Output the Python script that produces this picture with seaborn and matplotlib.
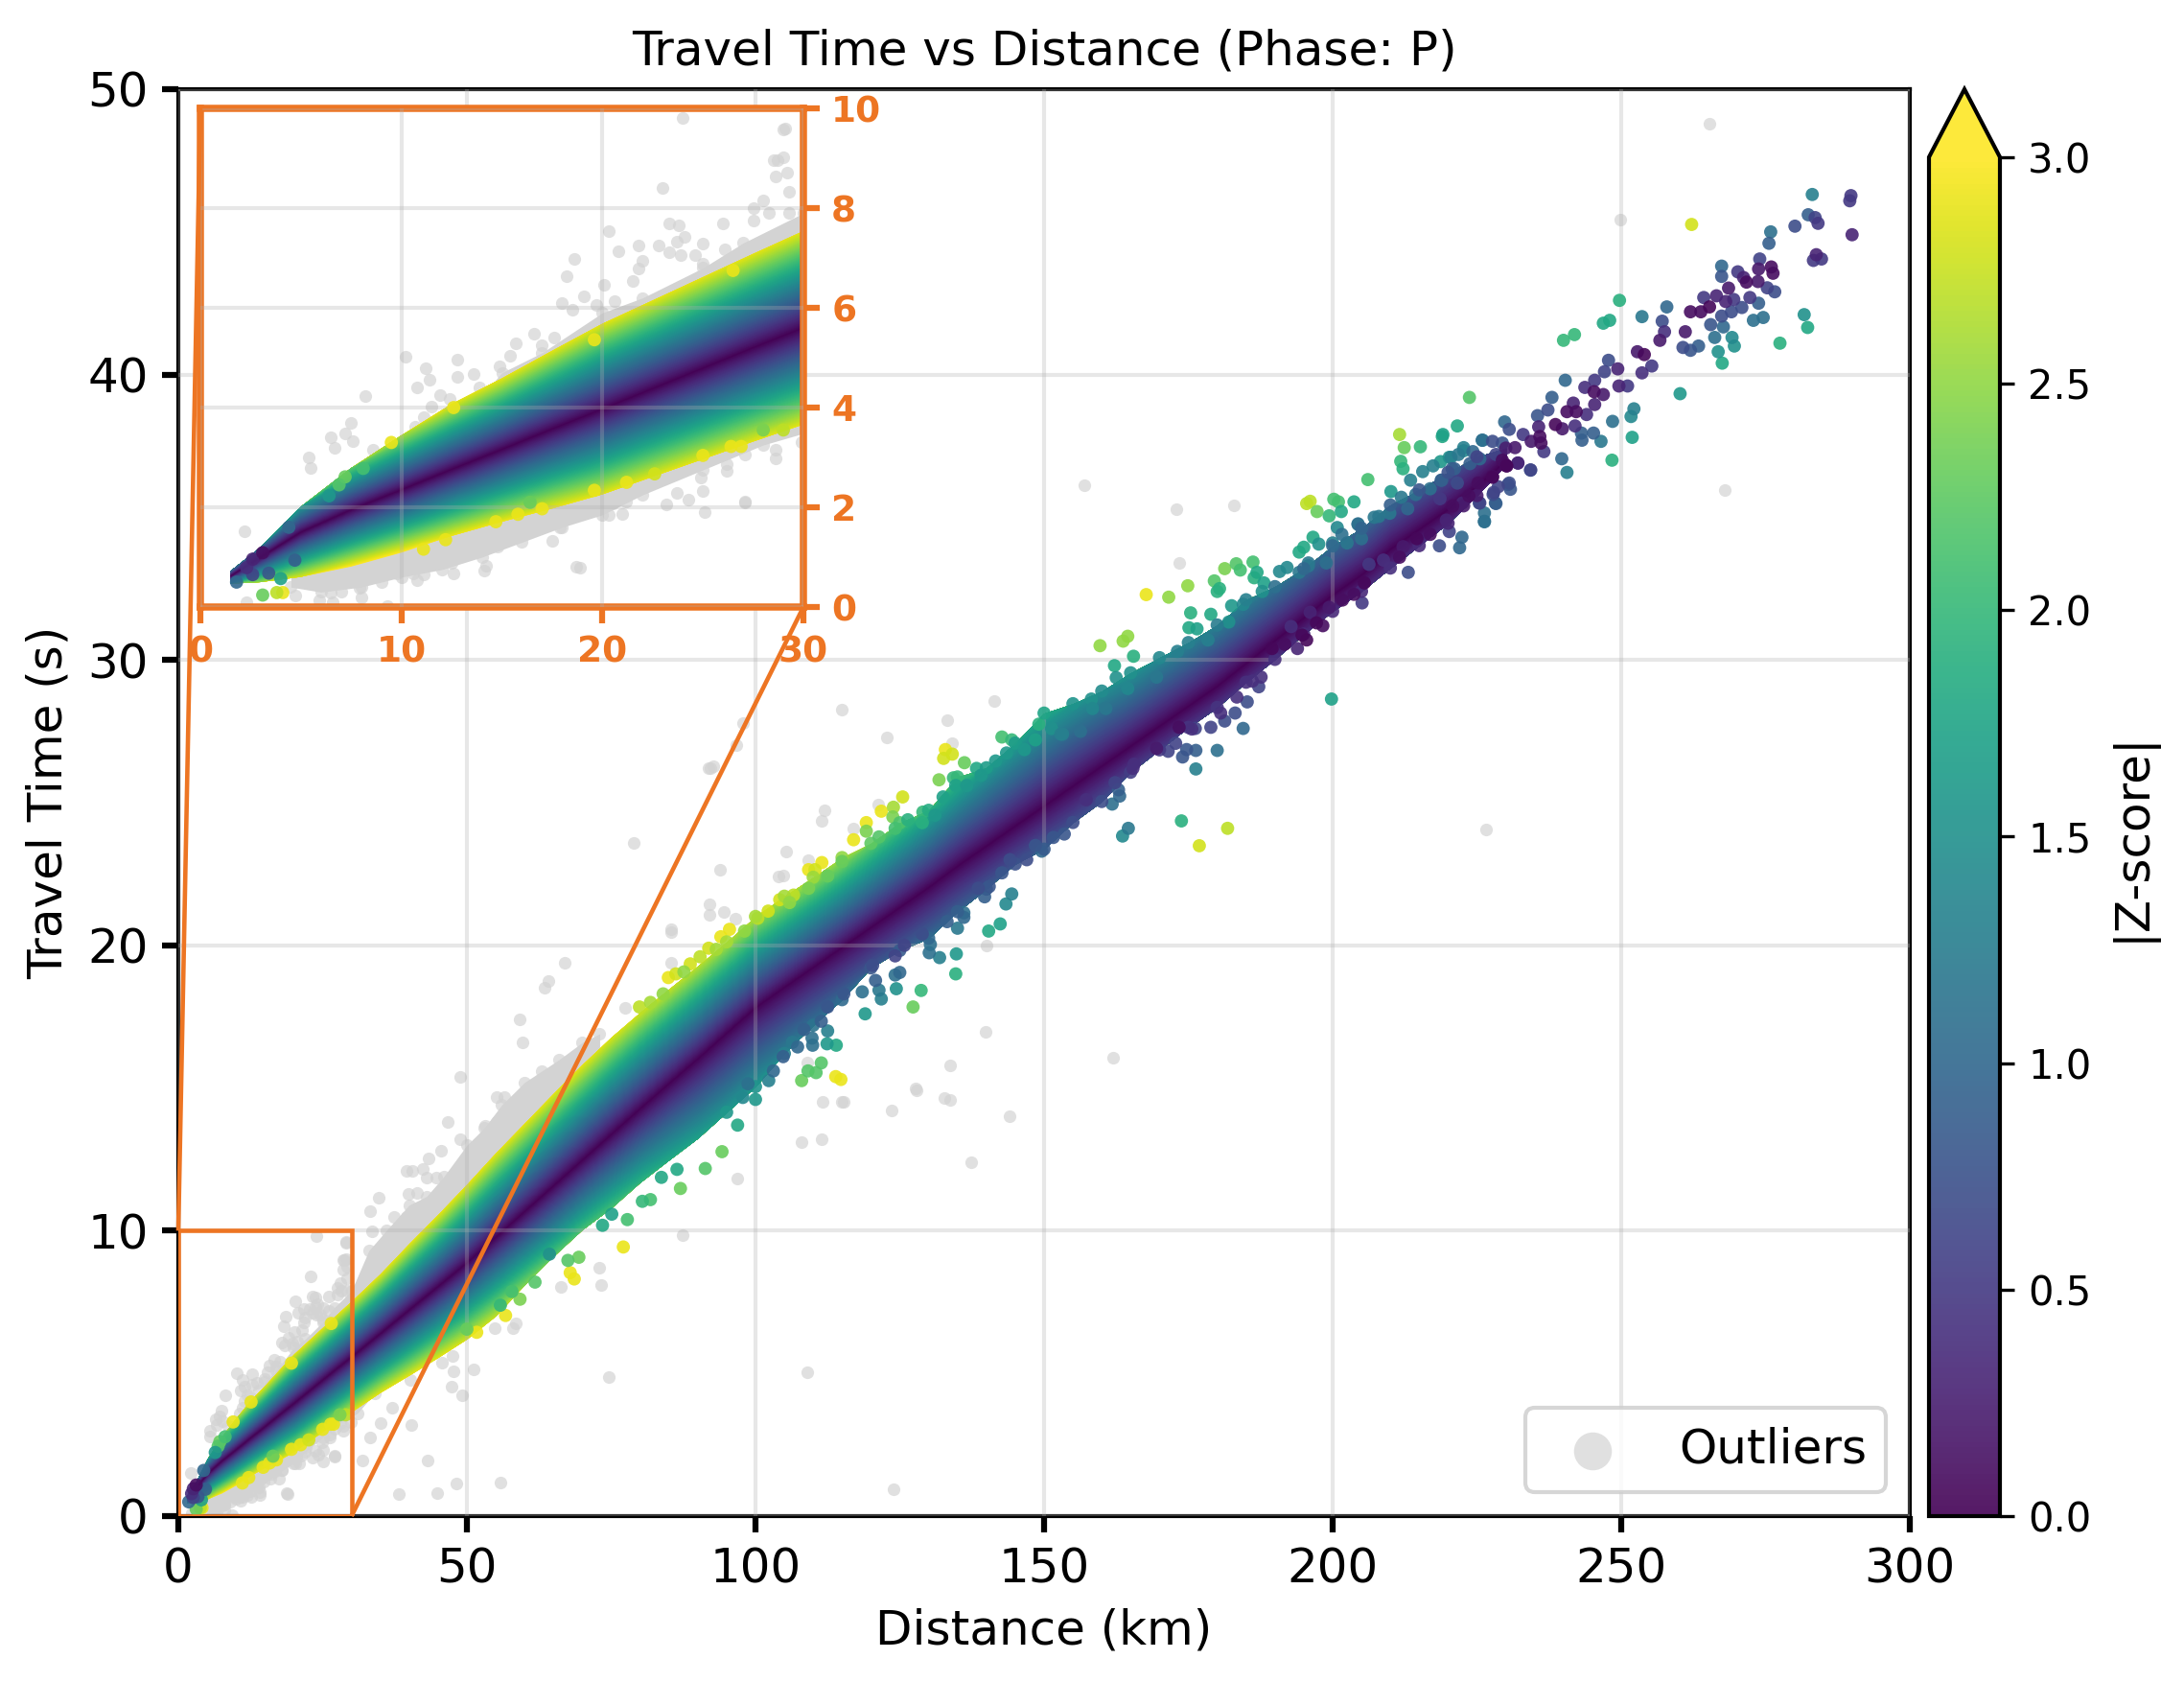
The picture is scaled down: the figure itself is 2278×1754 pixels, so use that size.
import matplotlib
matplotlib.use("Agg")
import matplotlib.pyplot as plt
import numpy as np
import pandas as pd
import seaborn as sns
from matplotlib.cm import ScalarMappable
from matplotlib.colors import Normalize
from mpl_toolkits.axes_grid1.inset_locator import mark_inset

# Robust travel-time curve per distance station: median, scatter per unit |z| on
# each side, and how far the well-populated cloud reaches above and below the median.
STATION_KM = [1.5, 3, 5, 7.5, 10, 12.5, 15, 17.5, 20, 22.5, 25, 27.5, 30, 35, 40, 45, 50, 55, 60, 65, 70,
              75, 80, 85, 90, 95, 100, 105, 110, 115, 120, 125, 130, 135, 140, 145, 150, 155, 160, 165,
              170, 175, 180, 185, 190, 195, 200, 205, 210, 215, 220, 225, 230]
MEDIAN_S = [0.62, 1.0, 1.5, 1.95, 2.35, 2.76, 3.16, 3.57, 3.97, 4.38, 4.79, 5.2, 5.6, 6.42, 7.25, 8.07, 8.9,
            9.8, 10.7, 11.6, 12.5, 13.4, 14.3, 15.18, 16.05, 16.95, 17.84, 18.55, 19.25, 19.95, 20.65, 21.35, 22.05,
            22.8, 23.5, 24.2, 24.9, 25.6, 26.3, 27.0, 27.7, 28.4, 29.1, 29.9, 30.7, 31.5, 32.3, 33.0, 33.9,
            34.6, 35.3, 36.1, 37.0]
SCATTER_UP = [0.1, 0.2, 0.32, 0.38, 0.42, 0.46, 0.5, 0.55, 0.6, 0.62, 0.64, 0.66, 0.68, 0.73, 0.81, 0.88, 0.96,
              1.03, 1.08, 1.13, 1.17, 1.21, 1.22, 1.22, 1.22, 1.22, 1.22, 1.22, 1.23, 1.25, 1.3, 1.37, 1.45,
              1.55, 1.65, 1.75, 1.85, 1.85, 1.8, 1.7, 1.7, 1.7, 1.7, 1.7, 1.7, 1.7, 1.7, 1.7, 1.7,
              1.7, 1.7, 1.7, 1.7]
SCATTER_DOWN = [0.1, 0.2, 0.32, 0.38, 0.42, 0.46, 0.5, 0.55, 0.6, 0.62, 0.64, 0.66, 0.68, 0.73, 0.81, 0.88, 0.96,
                1.03, 1.08, 1.13, 1.17, 1.25, 1.35, 1.5, 1.65, 1.75, 1.8, 1.8, 1.8, 1.8, 1.8, 1.8, 1.8,
                1.8, 1.8, 1.8, 1.8, 1.85, 1.8, 1.7, 1.7, 1.7, 1.7, 1.7, 1.7, 1.7, 1.7, 1.7, 1.7,
                1.7, 1.7, 1.7, 1.7]
REACH_UP = [1.0, 1.0, 1.6, 2.2, 2.6, 2.85, 2.85, 2.85, 2.85, 2.85, 2.85, 2.85, 2.85, 2.85, 2.85, 2.85, 2.85,
            2.85, 2.85, 2.85, 2.85, 2.8, 2.75, 2.7, 2.65, 2.6, 2.6, 2.6, 2.55, 2.5, 2.25, 2.15, 1.85, 2.0, 1.65,
            1.65, 1.75, 1.55, 1.45, 1.5, 1.4, 1.3, 1.25, 1.3, 1.1, 1.0, 1.0, 0.95, 0.9, 0.8, 0.75, 0.6, 0.25]
REACH_DOWN = [1.5, 2.5, 2.8, 3, 3, 2.9, 2.9, 2.9, 2.85, 2.85, 2.85, 2.85, 2.85, 2.85, 2.85, 2.85, 2.8, 2.7, 2.4,
              2.2, 2.1, 2.08, 1.93, 1.8, 1.7, 1.6, 1.55, 1.3, 1.14, 1.03, 0.8, 0.85, 1.0, 0.9, 0.85, 0.75, 0.85,
              0.7, 0.7, 0.55, 0.5, 0.45, 0.45, 0.4, 0.4, 0.35, 0.35, 0.35, 0.4, 0.35, 0.3, 0.2, 0.1]

# Solid masses of rejected picks hugging the cloud.
HIGH_MASS_KM = [12, 15, 17, 20, 22, 25, 27, 30, 33, 36, 40, 43, 46, 50, 53, 56, 60, 63, 66, 70, 73]
HIGH_MASS_TOP = [3.3, 4.7, 5.1, 5.9, 6.2, 6.8, 7.3, 7.9, 9.3, 10.0, 10.9, 11.2, 11.9, 13.0, 13.6, 14.4, 15.2, 15.6,
                 16.0, 16.6, 16.9]
HIGH_MASS_BASE = [2.7, 3.16, 3.5, 3.97, 4.3, 4.8, 5.1, 5.6, 6.1, 6.6, 7.25, 7.7, 8.2, 8.9, 9.4, 10.0, 10.7, 11.2,
                  11.8, 12.5, 13.0]
LOW_MASS_KM = [4.5, 6, 8, 10, 12, 14, 16, 18, 20, 22, 25, 28, 31, 34]
LOW_MASS_TOP = [1.4, 1.7, 2.0, 2.35, 2.7, 3.0, 3.3, 3.65, 3.97, 4.3, 4.8, 5.3, 5.8, 6.2]
LOW_MASS_BOTTOM = [0.4, 0.3, 0.4, 0.6, 0.75, 1.0, 1.3, 1.6, 1.85, 2.25, 2.75, 3.25, 3.6, 4.3]

OUTLIERS = [
    (249.9, 45.42), (267.9, 35.95), (265.2, 48.8), (157.0, 36.12), (173.0, 35.28), (182.9, 35.41), (173.5, 33.39),
    (226.6, 24.07), (162.0, 16.07), (114.9, 28.27), (141.4, 28.56), (140.0, 20.0), (132.8, 14.65), (137.3, 12.4),
    (144.1, 14.0), (124.0, 0.93), (109.0, 5.03), (74.6, 4.88), (87.4, 9.86), (78.9, 23.6), (59.1, 17.4), (66.9, 19.4),
    (64.2, 18.75), (63.5, 18.5), (59.6, 16.6), (44.9, 0.8), (55.8, 1.17), (107.9, 13.1), (111.5, 13.2), (114.9, 14.5),
    (108.9, 15.9), (123.6, 14.2), (133.7, 15.8), (127.7, 15.0), (92.2, 26.2), (97.9, 27.8), (96.6, 27.0), (91.9, 26.2),
    (92.7, 26.27), (93.9, 22.66), (92.0, 21.45), (92.0, 21.07), (94.5, 21.17), (96.5, 20.95), (85.3, 20.58),
    (85.3, 20.47), (85.3, 19.4), (122.7, 27.3), (133.3, 27.9), (134.1, 27.1), (112.0, 24.73), (111.5, 24.37),
    (121.3, 24.93), (105.3, 23.3), (117.0, 24.1), (109.2, 23.0), (104.8, 22.43), (104.0, 22.4), (139.9, 16.97),
    (127.9, 14.93), (133.7, 14.6), (111.7, 14.5), (115.3, 14.5), (77.4, 17.8), (96.9, 11.84),
    (48.9, 15.4), (55.2, 14.7), (56.4, 14.67), (57.3, 14.2), (46.7, 13.8), (53.2, 13.66), (55.1, 13.8), (48.9, 13.2),
    (43.3, 12.54), (45.5, 12.8), (39.5, 12.1), (40.5, 12.1), (42.4, 12.15), (44.7, 11.87), (43.0, 11.87), (34.8, 11.14),
    (39.8, 11.3), (41.4, 11.33), (33.2, 10.7), (37.3, 10.5), (39.5, 10.5), (33.5, 9.97), (29.0, 9.57), (28.7, 8.96),
    (72.9, 8.7), (73.3, 8.1), (66.3, 8.03), (54.8, 6.57), (57.9, 6.6), (58.4, 6.77), (47.5, 5.6), (45.7, 5.38),
    (51.1, 5.15), (47.6, 5.06), (47.3, 4.53), (49.2, 4.23), (40.2, 4.78), (40.3, 3.19), (35.1, 3.27), (37.0, 3.8),
    (33.3, 2.74), (27.1, 2.1), (31.9, 1.94), (43.2, 1.96), (48.1, 1.15), (38.2, 0.78), (18.9, 0.78),
    (24.0, 9.8), (29.1, 9.6), (28.5, 8.96), (29.0, 9.02), (28.6, 8.63), (29.2, 8.72), (23.0, 8.41), (29.3, 8.32),
    (28.0, 8.15), (27.5, 8.0), (28.3, 7.9), (27.5, 7.75), (29.3, 7.9), (26.0, 7.7), (23.3, 7.7), (23.8, 7.66),
    (20.3, 7.53), (24.1, 7.42), (23.7, 7.32), (25.0, 7.28), (21.8, 7.25), (22.8, 7.25), (20.8, 7.14), (23.3, 7.12),
    (26.1, 7.18), (23.9, 7.05), (24.6, 7.05), (22.0, 6.95), (18.6, 6.99), (18.2, 6.64), (25.0, 6.88), (21.8, 6.79),
    (20.1, 6.46), (21.5, 6.53), (19.1, 6.24), (20.6, 6.13), (18.0, 6.09), (19.7, 6.06), (18.5, 5.97), (16.6, 5.49),
    (17.6, 5.41), (15.7, 5.28), (17.0, 5.25), (15.4, 5.04), (10.2, 5.01), (12.8, 4.97), (11.2, 4.78), (14.9, 4.82),
    (11.4, 4.55), (12.8, 4.62), (13.6, 4.68), (10.8, 4.4), (13.9, 4.4), (8.2, 4.23), (11.9, 4.25), (12.4, 4.18),
    (11.5, 4.02), (11.1, 3.81), (7.5, 3.7), (10.7, 3.61), (6.5, 3.41), (7.2, 3.48), (7.6, 3.33), (6.7, 3.19),
    (8.6, 3.16), (5.4, 3.0), (5.5, 2.78), (2.2, 1.51),
    (29.9, 3.3), (28.6, 3.15), (28.6, 2.98), (27.1, 3.05), (26.2, 2.86), (26.2, 2.74), (24.9, 2.6), (22.1, 2.41),
    (25.0, 2.33), (23.7, 2.28), (24.3, 2.16), (21.2, 2.12), (27.1, 2.12), (25.1, 1.91), (23.2, 2.06), (20.5, 2.08),
    (20.3, 1.85), (21.0, 1.86), (20.1, 2.32), (19.1, 2.05), (17.9, 1.9), (17.9, 1.6), (17.5, 1.32), (18.7, 0.81),
    (16.7, 1.57), (16.1, 1.49), (15.8, 1.71), (14.7, 1.38), (14.8, 1.22), (13.5, 1.46), (12.8, 1.31), (12.8, 1.13),
    (13.6, 1.09), (13.4, 1.07), (12.5, 0.89), (11.5, 0.89), (12.6, 0.68), (14.2, 0.83), (14.1, 0.74), (10.4, 0.98),
    (9.4, 0.83), (10.6, 0.68), (11.1, 0.66), (10.8, 0.54), (9.8, 0.68), (9.0, 0.5), (8.0, 0.2), (7.9, 0.39), (7.0, 0.3),
    (6.5, 0.28), (5.9, 0.13), (4.7, 0.24), (2.3, 0.1), (9.3, 0.02), (6.6, 0.1),
]

# Individual retained picks as (distance km, travel time s, |z|).
FAR_PICKS = [
    (283.1, 46.31, 1.3), (289.8, 46.27, 0.5), (289.6, 46.09, 0.5), (282.4, 45.6, 0.9), (283.6, 45.5, 0.6),
    (284.1, 45.3, 0.5), (280.1, 45.2, 0.7), (275.9, 45.0, 1.1), (275.6, 44.6, 0.9), (290.0, 44.9, 0.3),
    (283.8, 44.2, 0.3), (283.3, 44.0, 0.5), (284.7, 44.05, 0.5), (274.0, 44.05, 0.6), (276.0, 43.77, 0.1),
    (276.3, 43.55, 0.1), (273.8, 43.7, 0.2), (267.4, 43.8, 1.0), (267.4, 43.44, 0.8), (270.2, 43.6, 0.5),
    (271.2, 43.4, 0.3), (271.7, 43.24, 0.1), (273.7, 43.26, 0.2), (268.6, 43.03, 0.2), (266.5, 42.76, 0.3),
    (264.3, 42.7, 0.5), (268.1, 42.56, 0.3), (269.5, 42.63, 0.5), (265.3, 42.37, 0.05), (262.0, 42.2, 0.1),
    (263.8, 42.2, 0.1), (275.3, 43.04, 0.6), (276.6, 42.9, 0.7), (272.3, 42.7, 0.5), (273.8, 42.5, 0.9),
    (270.9, 42.35, 0.7), (269.1, 42.2, 0.7), (267.4, 42.05, 0.7), (257.9, 42.37, 1.0), (253.6, 42.03, 1.2),
    (249.7, 42.6, 1.9), (248.0, 41.9, 1.8), (246.9, 41.8, 1.8), (241.9, 41.4, 2.0), (240.0, 41.2, 2.0),
    (262.2, 45.26, 2.8), (281.7, 42.1, 1.5), (282.3, 41.65, 1.8), (277.5, 41.1, 1.9), (274.6, 42.0, 1.1),
    (272.9, 41.9, 1.1), (265.5, 41.75, 0.8), (267.7, 41.67, 1.0), (266.2, 41.3, 1.1), (269.2, 41.3, 1.4),
    (269.6, 41.0, 1.5), (266.8, 40.8, 1.5), (267.5, 40.4, 1.8), (263.4, 41.0, 0.9), (262.0, 40.85, 0.8),
    (260.7, 40.95, 0.7), (261.1, 41.5, 0.2), (257.5, 41.5, 0.4), (257.1, 41.87, 0.7), (256.7, 41.2, 0.2),
    (252.8, 40.8, 0.2), (254.0, 40.7, 0.05), (255.3, 40.3, 0.5), (253.6, 40.06, 0.4), (260.2, 39.33, 1.6),
    (249.4, 40.2, 0.3), (247.8, 40.5, 0.7), (247.1, 40.1, 0.6), (240.3, 39.8, 1.0), (245.4, 39.8, 0.5),
    (243.7, 39.55, 0.4), (245.3, 39.4, 0.1), (246.9, 39.3, 0.2), (249.6, 39.6, 0.3), (251.1, 39.6, 0.5),
    (238.0, 39.2, 0.9), (237.3, 38.76, 0.7), (235.5, 38.56, 0.8), (241.7, 39.0, 0.3), (240.6, 38.7, 0.1),
    (242.2, 38.7, 0.1), (245.4, 38.95, 0.3), (244.0, 38.6, 0.4), (238.6, 38.25, 0.05), (239.8, 38.1, 0.2),
    (242.0, 38.2, 0.4), (229.8, 38.34, 1.0), (230.6, 38.08, 0.7), (233.0, 37.9, 0.5), (235.7, 38.17, 0.3),
    (235.9, 37.83, 0.1), (234.4, 37.66, 0.2), (236.1, 37.6, 0.1), (236.6, 37.3, 0.5), (243.1, 37.95, 0.9),
    (243.2, 37.7, 0.9), (245.2, 37.95, 0.9), (246.5, 37.66, 1.2), (248.5, 38.36, 1.1), (251.7, 38.53, 1.4),
    (252.2, 38.8, 1.3), (251.9, 37.8, 1.7), (248.4, 37.0, 1.9), (226.0, 37.7, 1.1), (221.6, 38.2, 1.8),
    (219.1, 37.9, 1.7), (223.7, 39.2, 2.2), (239.7, 37.05, 1.0), (240.6, 36.57, 1.3), (234.3, 36.65, 0.8),
    (232.1, 36.9, 0.4), (230.2, 36.8, 0.1), (229.4, 37.6, 0.8), (231.6, 37.44, 0.2), (228.3, 37.2, 0.6),
    (229.4, 37.0, 0.1), (227.7, 36.43, 0.1), (230.6, 36.2, 0.7), (230.8, 35.98, 0.8), (228.7, 36.07, 0.6),
    (227.8, 35.8, 0.7), (228.3, 35.48, 0.9), (226.3, 35.15, 1.1), (226.3, 34.84, 1.1), (225.5, 35.5, 0.6),
    (225.2, 36.2, 0.1), (223.6, 35.75, 0.1), (225.5, 37.05, 1.0), (222.7, 37.33, 1.4), (220.2, 37.1, 1.5),
    (218.7, 36.95, 1.6), (221.1, 36.7, 0.9), (223.8, 36.88, 0.9), (221.6, 36.2, 0.7), (218.9, 36.3, 0.9),
    (220.8, 35.4, 0.1), (222.5, 35.5, 0.3), (219.7, 34.9, 0.3), (218.6, 35.65, 0.5),
]
MID_PICKS = [
    (211.6, 37.9, 2.6), (212.4, 37.44, 2.3), (215.2, 37.47, 2.0), (219.0, 37.83, 1.8), (211.8, 36.96, 2.0),
    (212.2, 36.7, 1.9), (206.1, 36.32, 2.1), (195.5, 35.48, 2.7), (196.1, 35.56, 2.7), (197.3, 35.2, 2.3),
    (200.2, 35.63, 2.1), (201.0, 35.54, 2.1), (199.4, 35.05, 2.0), (201.5, 35.2, 1.8), (203.7, 35.54, 1.8),
    (200.8, 34.64, 1.4), (196.6, 34.3, 1.8), (197.6, 34.06, 1.5), (195.0, 33.95, 1.8), (194.2, 33.78, 1.8),
    (204.4, 34.77, 1.1), (205.0, 34.25, 1.1), (186.2, 33.43, 2.1), (183.3, 33.37, 2.2), (181.3, 33.2, 2.4),
    (184.0, 33.15, 2.1), (186.9, 33.07, 1.8), (186.4, 32.88, 1.9), (179.5, 32.77, 2.2), (188.1, 32.7, 1.7),
    (174.9, 32.6, 2.5), (180.4, 32.5, 1.9), (180.0, 32.4, 1.9), (171.6, 32.2, 2.5), (167.7, 32.29, 2.9),
    (175.4, 31.65, 1.9), (178.9, 31.6, 1.8), (182.5, 31.9, 1.6), (175.1, 31.13, 1.8), (176.5, 31.09, 1.7),
    (182.0, 31.33, 1.5), (164.5, 30.83, 2.5), (163.7, 30.66, 2.5), (159.7, 30.5, 2.5), (165.5, 30.13, 1.9),
    (162.2, 29.8, 1.8), (162.5, 29.38, 1.5), (158.2, 28.63, 1.5), (158.4, 28.3, 1.4), (190.8, 33.1, 1.4),
    (192.1, 33.24, 1.4), (195.8, 33.4, 1.2), (210.1, 35.9, 1.6), (211.9, 35.7, 1.2), (213.5, 36.3, 1.3),
    (215.6, 36.6, 1.3), (217.4, 36.8, 1.3), (220.5, 37.1, 1.3), (222.7, 37.44, 1.3), (225.9, 37.7, 1.1),
    (199.8, 28.63, 1.7), (201.7, 32.1, 0.1), (203.7, 32.3, 0.1), (205.1, 32.0, 0.5), (213.1, 33.07, 0.7),
    (218.5, 34.0, 0.7), (222.0, 33.93, 1.0), (222.4, 34.3, 1.0), (226.3, 34.86, 1.1), (228.2, 35.5, 0.9),
    (198.3, 31.2, 0.1), (197.2, 31.3, 0.05), (194.7, 30.87, 0.05), (195.5, 30.7, 0.05), (193.9, 30.4, 0.3),
    (191.7, 30.55, 0.1), (187.6, 29.4, 0.4), (187.2, 29.06, 0.6), (185.2, 28.53, 0.7), (184.5, 27.6, 1.0),
    (183.1, 28.14, 0.7), (181.3, 27.86, 0.7), (178.9, 27.64, 0.6), (180.0, 26.83, 1.1), (176.3, 26.18, 1.3),
    (176.3, 26.83, 0.9), (174.7, 26.86, 0.8), (174.0, 26.6, 0.8), (172.8, 27.08, 0.6), (171.5, 26.8, 0.6),
    (175.6, 27.58, 0.4), (173.4, 27.64, 0.1), (161.8, 24.95, 1.1), (163.1, 25.23, 1.0), (165.4, 26.2, 0.4),
    (162.9, 25.45, 0.9), (173.8, 24.36, 1.9), (176.9, 23.49, 2.8), (181.8, 24.1, 2.7), (163.6, 23.83, 1.4),
    (164.6, 24.1, 1.2),
    (132.9, 26.86, 2.9), (132.6, 26.55, 2.8), (134.1, 26.7, 2.8), (136.2, 26.4, 2.3), (131.8, 25.8, 2.4),
    (134.3, 25.87, 2.0), (138.3, 26.2, 1.8), (142.7, 27.3, 2.1), (144.4, 27.2, 2.0), (149.1, 27.75, 1.9),
    (148.5, 27.2, 1.7), (125.5, 25.2, 2.8), (123.9, 24.84, 2.6), (121.8, 24.7, 2.9), (123.8, 24.5, 2.4),
    (129.0, 24.67, 2.0), (126.4, 24.4, 1.9), (119.2, 24.3, 2.9), (117.0, 23.7, 2.9), (111.5, 22.9, 2.9),
    (109.2, 22.65, 2.9), (110.3, 22.65, 2.8), (106.6, 21.76, 2.7), (104.2, 21.6, 2.8), (102.2, 21.2, 2.8),
    (100.4, 20.95, 2.7), (95.5, 20.56, 2.9), (94.0, 20.3, 2.9), (91.9, 19.9, 2.8), (88.7, 19.35, 2.8),
    (86.2, 19.0, 2.8), (84.9, 18.87, 2.9), (81.8, 18.0, 2.6), (79.9, 17.84, 2.7),
    (153.5, 23.9, 0.8), (151.6, 23.78, 0.8), (149.6, 23.3, 1.0), (147.0, 23.0, 0.7), (144.4, 21.8, 1.3),
    (143.4, 21.45, 1.4), (142.4, 20.75, 1.7), (140.4, 20.5, 1.8), (139.7, 21.7, 0.9), (140.5, 22.06, 0.8),
    (136.1, 21.14, 1.1), (136.1, 20.98, 1.0), (135.0, 20.6, 1.2), (133.2, 20.83, 0.9), (130.3, 20.03, 1.1),
    (130.1, 19.74, 1.1), (131.9, 19.57, 1.3), (134.8, 19.7, 1.6), (134.7, 19.0, 1.9), (128.7, 18.42, 2.0),
    (127.3, 17.84, 2.3), (125.0, 19.05, 1.0), (124.2, 18.96, 1.1), (124.4, 18.48, 1.5), (120.8, 18.77, 0.9),
    (121.4, 18.43, 1.2), (121.8, 18.12, 1.3), (118.5, 18.37, 1.1), (119.0, 17.6, 1.6), (112.5, 17.0, 1.3),
    (109.8, 16.75, 1.1), (109.9, 16.5, 1.1), (112.4, 16.55, 1.6), (114.0, 16.5, 1.8), (111.4, 15.88, 2.2),
    (109.1, 15.6, 2.2), (110.5, 15.54, 2.2), (108.0, 15.26, 2.3), (113.9, 15.4, 2.9), (114.8, 15.3, 2.9),
    (107.3, 16.44, 1.0), (97.8, 14.67, 1.4), (100.0, 14.6, 1.6), (102.3, 15.26, 1.3),
    (68.6, 8.31, 2.9), (67.9, 8.53, 2.9), (77.1, 9.43, 2.9), (69.4, 9.07, 2.3), (67.5, 8.96, 2.2), (77.8, 10.39, 2.1),
    (73.5, 10.19, 1.8), (75.1, 10.58, 1.7), (87.0, 11.48, 2.3), (81.8, 11.09, 2.1), (80.4, 11.03, 2.0),
    (91.3, 12.18, 2.2), (94.2, 12.77, 2.3), (96.9, 13.7, 1.8), (86.4, 12.15, 1.8), (83.7, 11.87, 1.8),
    (64.3, 9.18, 1.5), (61.8, 8.2, 2.2), (59.2, 7.6, 2.4), (57.8, 7.87, 2.1), (56.7, 7.03, 2.9), (51.7, 6.44, 2.9),
    (50.0, 6.55, 2.3), (55.8, 7.39, 2.0),
]
NEAR_PICKS = [
    (1.8, 0.5, 1.0), (2.6, 0.96, 0.3), (2.3, 0.79, 0.4), (3.1, 1.09, 0.1), (4.4, 1.6, 1.0), (3.1, 0.24, 2.3),
    (3.8, 0.29, 2.7), (4.1, 0.29, 2.9), (4.0, 0.57, 1.7), (4.7, 0.94, 0.9), (3.4, 0.68, 0.8), (2.6, 0.65, 0.6),
    (9.5, 3.3, 2.9), (8.1, 2.78, 2.1), (7.2, 2.61, 2.3), (6.9, 2.45, 2.2), (6.4, 2.23, 1.6), (12.6, 4.0, 2.9),
    (19.6, 5.36, 2.9), (26.5, 6.75, 2.9), (25.0, 3.04, 2.9), (26.9, 3.22, 2.9), (26.4, 3.22, 2.9), (29.0, 3.55, 2.7),
    (28.0, 3.55, 2.4), (21.2, 2.5, 2.9), (19.6, 2.34, 2.9), (22.6, 2.67, 2.8), (16.4, 2.1, 2.3), (17.0, 1.97, 2.9),
    (15.8, 1.86, 2.9), (14.7, 1.71, 2.9), (12.2, 1.35, 2.9), (11.1, 1.16, 2.9),
]
# Picks along the lumpy upper and lower margins of the cloud.
MARGIN_PICKS = [
    (132.5, 25.2, 1.7), (134.7, 25.6, 1.7), (136.6, 25.6, 1.6), (139.1, 25.96, 1.6), (141.6, 26.46, 1.6),
    (143.5, 26.74, 1.6), (146.6, 26.86, 1.6), (151.3, 27.6, 1.5), (153.2, 27.4, 1.3), (156.3, 27.5, 1.1),
    (131.1, 24.56, 1.6), (128.9, 24.3, 1.9), (124.2, 24.1, 2.1), (121.4, 23.8, 2.2), (119.2, 24.0, 2.4),
    (115.0, 22.94, 2.3), (112.5, 22.43, 2.3), (109.2, 22.0, 2.4), (105.9, 21.5, 2.5), (98.1, 20.5, 2.5),
    (93.2, 19.86, 2.6), (90.4, 19.6, 2.7), (87.6, 19.07, 2.5), (84.0, 18.3, 2.5),
    (148.5, 23.5, 0.8), (144.1, 23.0, 0.7), (142.7, 22.54, 0.8), (138.6, 22.0, 0.7), (128.9, 20.4, 0.7),
    (125.8, 20.0, 0.6), (124.2, 19.63, 0.6), (120.3, 19.3, 0.7), (115.3, 18.3, 0.8), (112.5, 17.84, 0.8),
    (111.4, 17.34, 0.9), (108.4, 17.05, 0.9), (106.4, 16.6, 1.2), (104.8, 16.1, 0.9), (103.1, 15.6, 1.0),
    (98.7, 15.15, 1.1),
    (207.2, 35.0, 1.2), (208.0, 35.03, 1.2), (209.9, 35.14, 1.2), (213.0, 35.3, 1.0), (214.4, 35.8, 1.1),
    (216.9, 36.0, 1.1), (218.8, 36.3, 1.0), (220.7, 36.7, 0.9), (221.8, 37.2, 1.2), (224.3, 37.3, 1.0),
    (227.7, 37.66, 0.7), (204.4, 34.75, 1.1), (201.6, 34.4, 1.1), (202.5, 34.1, 1.2), (200.0, 34.1, 1.3),
    (195.8, 33.3, 1.2), (198.9, 33.4, 1.1), (194.2, 33.07, 1.2), (187.8, 32.4, 1.5), (184.5, 31.95, 1.4),
    (178.4, 30.7, 1.3), (173.1, 30.3, 1.3), (169.5, 29.4, 1.2), (164.5, 29.0, 1.4), (160.7, 28.3, 1.2),
    (152.9, 27.4, 1.3),
    (212.2, 33.97, 0.2), (214.6, 34.25, 0.05), (216.9, 34.4, 0.1), (220.2, 34.5, 0.6), (222.7, 35.4, 0.2),
    (225.4, 35.5, 0.7), (227.9, 35.87, 0.6), (230.4, 36.15, 0.8), (227.7, 36.4, 0.05), (230.1, 36.8, 0.05),
    (232.1, 36.9, 0.3), (234.3, 36.66, 0.6), (208.8, 33.5, 0.4), (211.6, 33.6, 0.1), (206.3, 33.35, 0.5),
    (205.5, 32.7, 0.05), (199.4, 31.84, 0.2), (196.1, 31.67, 0.3), (192.8, 31.17, 0.4), (189.5, 30.4, 0.05),
    (186.1, 29.26, 0.4), (183.4, 28.7, 0.4), (180.6, 28.14, 0.4), (176.2, 27.6, 0.6), (169.5, 26.9, 0.2),
    (165.6, 26.35, 0.4), (162.3, 25.7, 0.6), (157.3, 25.1, 0.4),
]

AXIS_X_TICKS = [0, 50, 100, 150, 200, 250, 300]
AXIS_Y_TICKS = [0, 10, 20, 30, 40, 50]
ZOOM_X_TICKS = [0, 10, 20, 30]
ZOOM_Y_TICKS = [0, 2, 4, 6, 8, 10]
CBAR_TICKS = [0.0, 0.5, 1.0, 1.5, 2.0, 2.5, 3.0]

ORANGE = "#ED7523"
GREY = "lightgray"
PX_W, PX_H = 2278, 1754

sns.set_style("ticks")
plt.rcParams["font.family"] = ["DejaVu Sans"]
plt.rcParams.update({
    "axes.linewidth": 1.0,
    "axes.edgecolor": "black",
    "axes.labelcolor": "black",
    "text.color": "black",
    "xtick.color": "black",
    "ytick.color": "black",
})

station = np.array(STATION_KM)
median = np.array(MEDIAN_S)
scatter_up = np.array(SCATTER_UP)
scatter_down = np.array(SCATTER_DOWN)
reach_up = np.array(REACH_UP)
reach_down = np.array(REACH_DOWN)
norm = Normalize(0, 3)
cmap = plt.get_cmap("viridis")

# Beyond about 95 km the cloud margin breaks up into separate dots.
broken_margin = station >= 95
rim = pd.concat([
    pd.DataFrame({"km": station, "s": median + reach_up * scatter_up, "z": reach_up})[broken_margin],
    pd.DataFrame({"km": station, "s": median - reach_down * scatter_down, "z": reach_down})[broken_margin],
])
picks = pd.DataFrame(FAR_PICKS + MID_PICKS + NEAR_PICKS + MARGIN_PICKS, columns=["km", "s", "z"])
retained = pd.concat([rim, picks]).sort_values("z", ascending=False)
rejected = pd.concat([
    pd.DataFrame(OUTLIERS, columns=["km", "s"]),
    pd.DataFrame({"km": HIGH_MASS_KM, "s": HIGH_MASS_TOP}),
    pd.DataFrame({"km": LOW_MASS_KM, "s": LOW_MASS_BOTTOM}),
])


def draw_cloud(ax, label=None):
    ax.fill_between(HIGH_MASS_KM, HIGH_MASS_BASE, HIGH_MASS_TOP, color=GREY, lw=0, zorder=1)
    ax.fill_between(LOW_MASS_KM, LOW_MASS_BOTTOM, LOW_MASS_TOP, color=GREY, lw=0, zorder=1)
    sns.scatterplot(data=rejected, x="km", y="s", ax=ax, color=GREY, s=10, alpha=0.7,
                    linewidth=0, zorder=1.5, label=label, legend=False)
    # Graded fill from the outermost |z| inward, so the median ends up darkest.
    for level in np.linspace(3, 0.02, 110):
        upper = median + np.minimum(level, reach_up) * scatter_up
        lower = median - np.minimum(level, reach_down) * scatter_down
        ax.fill_between(station, lower, upper, color=cmap(norm(level)), lw=0, zorder=2)
    sns.scatterplot(data=retained, x="km", y="s", hue="z", palette="viridis", hue_norm=norm, ax=ax,
                    s=11, alpha=0.9, linewidth=0, zorder=3, legend=False)
    ax.grid(True, alpha=0.3, linewidth=1.0, color="#b0b0b0")
    ax.set_axisbelow(False)


fig = plt.figure(figsize=(PX_W / 300, PX_H / 300), dpi=300)
ax = fig.add_axes([186 / PX_W, 1 - 1581 / PX_H, 1806 / PX_W, 1488 / PX_H])
draw_cloud(ax, label="Outliers")
ax.set_xlim(0, 300)
ax.set_ylim(0, 50)
ax.set_xticks(AXIS_X_TICKS)
ax.set_yticks(AXIS_Y_TICKS)
ax.tick_params(axis="both", labelsize=12, width=1.5, length=4, color="black")
ax.set_xlabel("Distance (km)", fontsize=12)
ax.set_ylabel("Travel Time (s)", fontsize=12)
ax.set_title("Travel Time vs Distance (Phase: P)", fontsize=12)
legend = ax.legend(loc="lower right", fontsize=12, markerscale=3.0, scatterpoints=1)

inset = ax.inset_axes([(209 - 186) / 1806, (1581 - 633) / 1488, 629 / 1806, 520 / 1488])
draw_cloud(inset)
inset.set_xlim(0, 30)
inset.set_ylim(0, 10)
inset.set_xticks(ZOOM_X_TICKS)
inset.set_yticks(ZOOM_Y_TICKS)
inset.set_xlabel("")
inset.set_ylabel("")
inset.yaxis.tick_right()
inset.tick_params(axis="both", colors=ORANGE, width=1.5, length=4, labelsize=9, pad=3)
for tick_label in inset.get_xticklabels() + inset.get_yticklabels():
    tick_label.set_fontweight("bold")
for spine in inset.spines.values():
    spine.set_edgecolor(ORANGE)
    spine.set_linewidth(1.8)
inset.set_facecolor("white")
mark_inset(ax, inset, loc1=2, loc2=4, fc="none", ec=ORANGE, lw=1.1, zorder=6)

# The bar's axes spans the body plus its pointed extension.
cax = fig.add_axes([2012 / PX_W, 1 - 1581 / PX_H, 74 / PX_W, 1488 / PX_H])
bar = fig.colorbar(ScalarMappable(norm=norm, cmap=cmap), cax=cax, extend="max", alpha=0.9)
bar.set_ticks(CBAR_TICKS)
bar.ax.tick_params(labelsize=10)
bar.set_label("|Z-score|", fontsize=12)

fig.savefig("out.png", dpi=300)
